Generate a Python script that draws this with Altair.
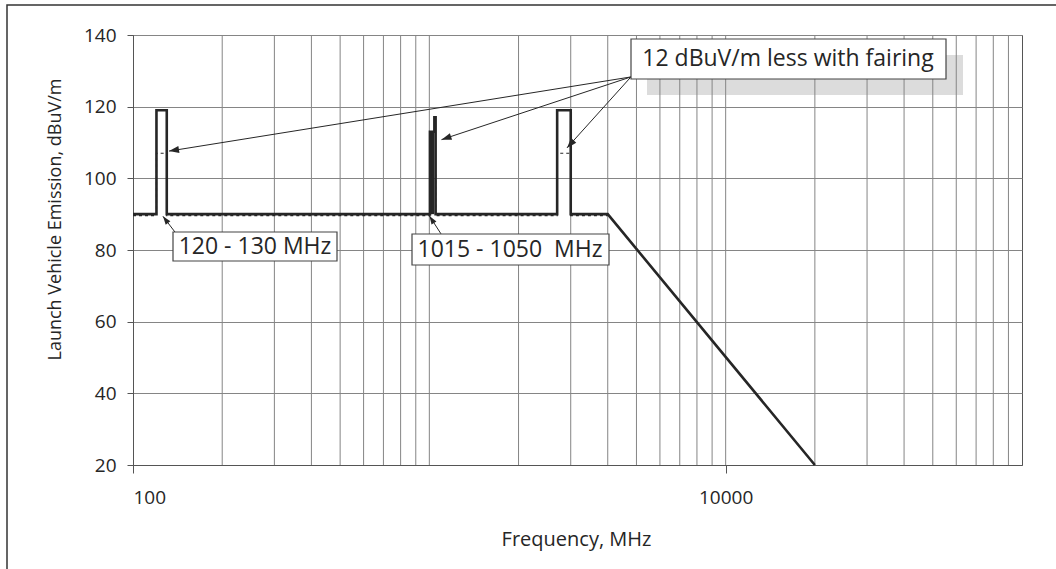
import math
import altair as alt
import pandas as pd

# ---------------- data ----------------
# main emission limit line (frequency MHz, level dBuV/m)
main_freq = [100, 120, 120, 130, 130, 1005, 1005, 1040, 1040, 1050, 1050, 2700, 2700, 3000, 3000, 4000, 20000]
main_db = [90, 90, 119, 119, 90, 90, 113, 113, 117, 117, 90, 90, 119, 119, 90, 90, 20]

# filled narrow band 1015-1050 MHz
band_freq = [1005, 1040]
band_top = [113, 113]
band_base = [90, 90]

# level with fairing (12 dB less in the spikes)
fair_freq = [100, 120, 120, 130, 130, 1005, 1005, 1050, 1050, 2700, 2700, 3000, 3000, 4000]
fair_db = [89.6, 89.6, 107, 107, 89.6, 89.6, 101, 101, 89.6, 89.6, 107, 107, 89.6, 89.6]

# grid values
x_grid = [200, 300, 400, 500, 600, 700, 800, 900, 1000,
          2000, 3000, 4000, 5000, 6000, 7000, 8000, 9000, 10000,
          20000, 30000, 40000, 50000, 60000, 70000, 80000, 90000]
y_ticks = [20, 40, 60, 80, 100, 120, 140]
x_ticks = [100, 10000]

# annotation arrows: start (freq, dB) -> tip (freq, dB)
arr_f0 = [4790, 4790, 4790, 138.6, 1095]
arr_v0 = [128.3, 128.3, 128.3, 85.0, 84.5]
arr_f1 = [132.3, 1099, 2914, 126.2, 1001]
arr_v1 = [107.6, 110.8, 108.5, 89.4, 89.5]
arr_size = [100, 100, 100, 70, 70]

# ---------------- layout ----------------
W, H = 889, 430
PL, PT = 133, 35
FONT = "Open Sans"
DARK = "#262626"
GRID = "#858585"


def to_px(f, v):
    return W * (math.log10(f) - 2) / 3, H * (140 - v) / 120


angles = []
for f0, v0, f1, v1 in zip(arr_f0, arr_v0, arr_f1, arr_v1):
    x0, y0 = to_px(f0, v0)
    x1, y1 = to_px(f1, v1)
    angles.append(math.degrees(math.atan2(y1 - y0, x1 - x0)) % 360)

main_df = pd.DataFrame({"f": main_freq, "db": main_db, "o": range(len(main_freq))})
fair_df = pd.DataFrame({"f": fair_freq, "db": fair_db, "o": range(len(fair_freq))})
band_df = pd.DataFrame({"f": band_freq, "top": band_top, "base": band_base})
grid_df = pd.DataFrame({"f": x_grid})
arr_df = pd.DataFrame({"f0": arr_f0, "v0": arr_v0, "f1": arr_f1, "v1": arr_v1,
                       "ang": angles, "s": arr_size})

xscale = alt.Scale(type="log", domain=[100, 100000], nice=False)
yscale = alt.Scale(domain=[20, 140], nice=False, zero=False)

x_axis = alt.Axis(values=x_ticks, format="d", grid=False, tickSize=8, tickColor="#555",
                  domainColor="#555", labelFontSize=19, labelPadding=15, labelColor=DARK,
                  labelFont=FONT, title="Frequency, MHz", titleFont=FONT, titleFontSize=20,
                  titleFontWeight="normal", titleColor=DARK, titleX=443, titleY=74,
                  titleBaseline="middle")
y_axis = alt.Axis(values=y_ticks, grid=True, gridColor=GRID, gridWidth=1, tickSize=6,
                  tickColor="#555", domainColor="#555", labelFontSize=19, labelPadding=11,
                  labelColor=DARK, labelFont=FONT, title="Launch Vehicle Emission, dBuV/m",
                  titleFont=FONT, titleFontSize=18, titleFontWeight="normal", titleColor=DARK,
                  titleAngle=270, titleX=-78, titleY=184, titleAlign="center",
                  titleBaseline="middle")

one = alt.Data(values=[{}])

# outer frame of the figure
frame = alt.Chart(one).mark_rect(fill="transparent", stroke="#333", strokeWidth=1.5).encode(
    x=alt.value(7 - PL), x2=alt.value(1200), y=alt.value(5 - PT), y2=alt.value(700))

shadow = alt.Chart(one).mark_rect(fill="#dcdcdc").encode(
    x=alt.value(647 - PL), x2=alt.value(963 - PL), y=alt.value(55 - PT), y2=alt.value(95 - PT))

base_axes = alt.Chart(main_df).mark_line(opacity=0).encode(
    x=alt.X("f:Q", scale=xscale, axis=x_axis),
    y=alt.Y("db:Q", scale=yscale, axis=y_axis),
)

vgrid = alt.Chart(grid_df).mark_rule(color=GRID, strokeWidth=1).encode(
    x=alt.X("f:Q", scale=xscale))

band = alt.Chart(band_df).mark_area(color=DARK).encode(
    x=alt.X("f:Q", scale=xscale), y=alt.Y("top:Q", scale=yscale), y2="base:Q")

fair = alt.Chart(fair_df).mark_line(color=DARK, strokeWidth=1.2, strokeDash=[3, 3]).encode(
    x=alt.X("f:Q", scale=xscale), y=alt.Y("db:Q", scale=yscale), order="o:Q")

main = alt.Chart(main_df).mark_line(color=DARK, strokeWidth=2.6, strokeJoin="miter").encode(
    x=alt.X("f:Q", scale=xscale), y=alt.Y("db:Q", scale=yscale), order="o:Q")

arrows = alt.Chart(arr_df).mark_rule(color=DARK, strokeWidth=1).encode(
    x=alt.X("f0:Q", scale=xscale), y=alt.Y("v0:Q", scale=yscale), x2="f1:Q", y2="v1:Q")

heads = alt.Chart(arr_df).mark_point(shape="M0,0L-2,-0.7L-2,0.7Z", filled=True, fill=DARK,
                                     strokeWidth=0, opacity=1).encode(
    x=alt.X("f1:Q", scale=xscale), y=alt.Y("v1:Q", scale=yscale),
    angle=alt.Angle("ang:Q", scale=None), size=alt.Size("s:Q", scale=None))


def box(x0, x1, y0, y1):
    return alt.Chart(one).mark_rect(fill="white", stroke="#444", strokeWidth=1.2).encode(
        x=alt.value(x0 - PL), x2=alt.value(x1 - PL), y=alt.value(y0 - PT), y2=alt.value(y1 - PT))


def label(txt, cx, cy, size=23):
    return alt.Chart(one).mark_text(text=txt, font=FONT, fontSize=size, color=DARK,
                                    align="center", baseline="middle").encode(
        x=alt.value(cx - PL), y=alt.value(cy - PT))


chart = alt.layer(
    frame, shadow, base_axes, vgrid, band, fair, main, arrows, heads,
    box(631, 946, 39, 79), label("12 dBuV/m less with fairing", 788, 59),
    box(173, 337, 232, 261), label("120 - 130 MHz", 255, 247),
    box(412, 609, 234, 265), label("1015 - 1050\u00a0 MHz", 510, 250),
).properties(
    width=W, height=H,
    autosize=alt.AutoSizeParams(type="none"),
    padding={"left": PL, "top": PT, "right": 1056 - PL - W, "bottom": 569 - PT - H},
    background="white",
).configure_view(stroke="#555", strokeWidth=1)

chart.save("out.html", embed_options={"renderer": "svg", "actions": False})
